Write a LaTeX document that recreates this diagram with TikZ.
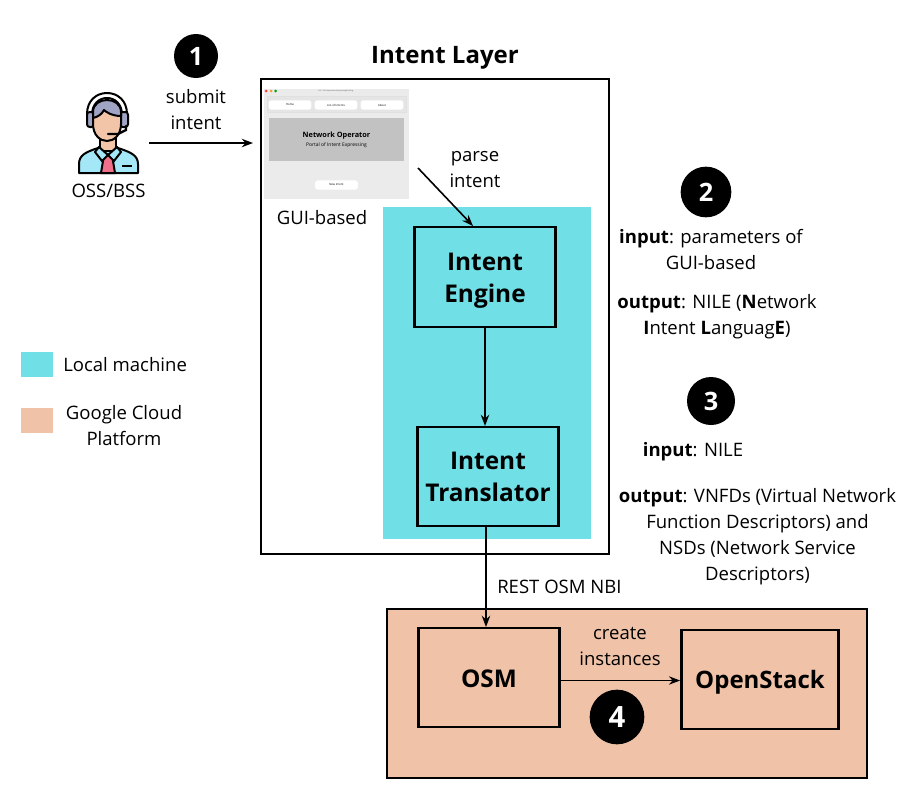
\documentclass[tikz,border=0pt]{standalone}
\usepackage{fontspec}
\setmainfont{Open Sans}
\usetikzlibrary{arrows.meta,positioning}
\definecolor{localcyan}{HTML}{70E0E6}
\definecolor{cloudpeach}{HTML}{F0C3A8}
\definecolor{guigrey}{HTML}{EBEBEB}
\definecolor{guibanner}{HTML}{C2C2C2}
\definecolor{shirtblue}{HTML}{A4E8F8}
\definecolor{skintone}{HTML}{F2C4A8}
\definecolor{hairgrey}{HTML}{A0A4C4}
\definecolor{tiepink}{HTML}{F0708A}
\newcommand{\blockdrop}[1]{\rule{0pt}{#1}}
\tikzset{
  >=Stealth,
  lbl/.style={font=\fontsize{13.9}{19.5}\selectfont,align=center,inner sep=0pt},
  note/.style={font=\fontsize{13.9}{19.5}\selectfont,align=center,inner sep=0pt},
  block/.style={draw=black,line width=1.8pt,align=center,inner sep=0pt,
                font=\fontsize{18.3}{24}\selectfont\bfseries},
  badge/.style={circle,fill=black,text=white,inner sep=0pt,font=\bfseries},
  flow/.style={->,line width=1.2pt,draw=black},
  swatch/.style={minimum width=24pt,minimum height=19pt,inner sep=0pt},
  guibtn/.style={fill=white,rounded corners=2pt,inner sep=0pt,minimum height=7pt,
                 font=\fontsize{2.1}{3}\selectfont},
  outline/.style={draw=black,line width=1.5pt,line join=round},
}
\begin{document}
\begin{tikzpicture}[x=0.75pt,y=-0.75pt]
  \useasboundingbox[fill=white] (0,0) rectangle (914,796);

  % containers
  \node[draw=black,line width=1.1pt,minimum width=261pt,minimum height=356pt,inner sep=0pt] (layer) at (435,316.5) {};
  \node[lbl,font=\fontsize{18}{22}\selectfont\bfseries] (layertitle) at (445,58) {Intent Layer};
  \node[fill=localcyan,minimum width=156pt,minimum height=249pt,inner sep=0pt] (local) at (487,373) {};
  \node[draw=black,line width=1.1pt,fill=cloudpeach,minimum width=360pt,minimum height=127pt,inner sep=0pt] (cloud) at (627,693.5) {};

  % gui screenshot
  \node[fill=guigrey,minimum width=109pt,minimum height=82.5pt,inner sep=0pt] (gui) at (336.5,144) {};
  \node[font=\fontsize{1.3}{2}\selectfont,text=black!70] (guititle) at (336,91) {PoC - GUI-based Intent Expressing/Profiling};
  \fill[red!75] (266,91) circle (1.5);
  \fill[orange!80] (271,91) circle (1.5);
  \fill[green!65!black] (275.500,91) circle (1.5);
  \node[draw=black!12,fill=black!10,minimum width=104pt,minimum height=12pt,inner sep=0pt] (guinav) at (336.5,104.500) {};
  \node[guibtn,minimum width=32pt] (guihome) at (290,105) {Home};
  \node[guibtn,minimum width=32pt] (guilist) at (336,105) {List of Intents};
  \node[guibtn,minimum width=32pt] (guiabout) at (382,105) {About};
  \node[fill=guibanner,minimum width=101pt,minimum height=32pt,inner sep=0pt,align=center] (guibanner) at (336.5,139.500)
    {{\fontsize{5.500}{8}\selectfont\bfseries Network Operator}\\[-5pt]{\fontsize{3.700}{5}\selectfont Portal of Intent Expressing}};
  \node[guibtn,minimum width=32pt] (guinew) at (336.5,185) {New Intent};
  \node[lbl] (guilbl) at (322,218) {GUI-based};

  % operator
  \draw[outline,fill=white] (87,122) -- (87,114) .. controls (87,101) and (96,93) .. (107,93) .. controls (118,93) and (127,101) .. (127,114) -- (127,122) -- (122,122) -- (122,115) .. controls (122,104) and (115,98) .. (107,98) .. controls (99,98) and (92,104) .. (92,115) -- (92,122) -- cycle;
  \draw[outline,fill=hairgrey,rounded corners=2pt] (87,112) rectangle (94,127);
  \draw[outline,fill=hairgrey,rounded corners=2pt] (120,112) rectangle (128,127);
  \draw[outline,fill=shirtblue] (79,173) -- (79,164) .. controls (79,155) and (86,152) .. (98,148) -- (118,148) .. controls (130,152) and (138,155) .. (138,164) -- (138,173) -- cycle;
  \draw[outline,fill=skintone] (100,137) rectangle (116,151);
  \draw[outline,fill=skintone] (93,110) -- (121,110) -- (121,124) .. controls (121,135) and (114,141) .. (107,141) .. controls (100,141) and (93,135) .. (93,124) -- cycle;
  \draw[outline,fill=hairgrey] (93,118) -- (93,112) .. controls (93,104) and (100,100) .. (107,100) .. controls (114,100) and (121,104) .. (121,112) -- (121,116) .. controls (112,116) and (106,112) .. (104,110) .. controls (102,114) and (98,117) .. (93,118) -- cycle;
  \draw[outline,fill=tiepink] (104,155) -- (112,155) -- (115,173) -- (101,173) -- cycle;
  \draw[outline,fill=shirtblue] (99,147) -- (108,155) -- (102,161) -- (95,152) -- cycle;
  \draw[outline,fill=shirtblue] (117,147) -- (108,155) -- (114,161) -- (121,152) -- cycle;
  \draw[black,line width=1.8pt] (122,166) -- (132,166);
  \draw[black,line width=1.8pt,line cap=round] (108,134) -- (118,134) -- (126,130) -- (126,126);
  \node[lbl] (operator) at (108.500,191) {OSS/BSS};
  \coordinate (operatorout) at (149,143);
  \coordinate (layerin) at (253,143);

  % blocks
  \node[block,fill=localcyan,minimum width=106pt,minimum height=75pt] (engine) at (485,277) {\blockdrop{19.2pt}Intent\\Engine};
  \node[block,fill=localcyan,minimum width=106pt,minimum height=74pt] (translator) at (488,476.500) {\blockdrop{13.7pt}Intent\\Translator};
  \node[block,fill=cloudpeach,minimum width=106pt,minimum height=74pt] (osm) at (489,677.500) {\blockdrop{14.7pt}OSM};
  \node[block,fill=cloudpeach,minimum width=118pt,minimum height=74pt,font=\fontsize{18}{24}\selectfont\bfseries] (openstack) at (760,679.500) {\blockdrop{17.7pt}OpenStack};

  % badges
  \node[badge,minimum size=33pt,font=\fontsize{19}{19}\selectfont\bfseries] (stepone) at (196,56) {1};
  \node[badge,minimum size=38pt,font=\fontsize{19}{19}\selectfont\bfseries] (steptwo) at (706,192) {2};
  \node[badge,minimum size=36pt,font=\fontsize{19}{19}\selectfont\bfseries] (stepthree) at (711,401) {3};
  \node[badge,minimum size=41pt,font=\fontsize{22}{22}\selectfont\bfseries] (stepfour) at (617,717) {4};

  % arrows
  \coordinate (parsefrom) at (418,168);
  \coordinate (parseto) at (473,226);
  \coordinate (restfrom) at (486,526);
  \coordinate (restto) at (486,627);
  \draw[flow] (operatorout) -- (layerin);
  \draw[flow] (parsefrom) -- (parseto);
  \draw[flow] (engine.south) -- (engine.south |- translator.north);
  \draw[flow] (restfrom) -- (restto);
  \draw[flow] (osm.east) ++(0,3) coordinate (osmout) -- (osmout -| openstack.west);

  % labels
  \node[lbl] (submit) at (196,110) {submit\\intent};
  \node[lbl] (parse) at (475,170) {parse\\intent};
  \node[lbl,anchor=west] (rest) at (497,587) {REST OSM NBI};
  \node[lbl] (create) at (620,646) {create\\instances};

  \node[note] (inone) at (711,249.500) {\textbf{input}: parameters of\\GUI-based};
  \node[note] (outone) at (717,317) {\textbf{output}: NILE (\textbf{N}etwork\\\textbf{I}ntent \textbf{L}anguag\textbf{E})};
  \node[note] (intwo) at (693,452) {\textbf{input}: NILE};
  \node[note] (outtwo) at (757.500,537) {\textbf{output}: VNFDs (Virtual Network\\Function Descriptors) and\\NSDs (Network Service\\Descriptors)};

  % legend
  \node[swatch,fill=localcyan] (keylocal) at (37,364.500) {};
  \node[lbl,anchor=west] (keylocaltxt) at (63,365) {Local machine};
  \node[swatch,fill=cloudpeach] (keycloud) at (37,420.500) {};
  \node[lbl] (keycloudtxt) at (124,425.500) {Google Cloud\\Platform};
\end{tikzpicture}
\end{document}
